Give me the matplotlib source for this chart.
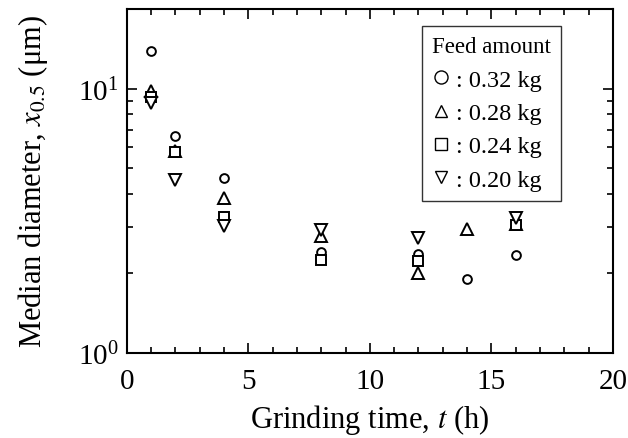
import matplotlib
matplotlib.use('Agg')
import matplotlib.pyplot as plt
from matplotlib.ticker import MultipleLocator

plt.rcParams['font.family'] = ['Liberation Serif', 'DejaVu Serif']
plt.rcParams['mathtext.fontset'] = 'stix'

# grinding time (h) and median diameter (um) per feed amount
t_032 = [1, 2, 4, 8, 12, 14, 16]
d_032 = [13.9, 6.6, 4.6, 2.4, 2.36, 1.91, 2.34]
t_028 = [1, 2, 4, 8, 12, 14, 16]
d_028 = [9.8, 5.8, 3.85, 2.78, 2.0, 2.94, 3.08]
t_024 = [1, 2, 4, 8, 12, 16]
d_024 = [9.3, 5.75, 3.26, 2.25, 2.22, 3.05]
t_020 = [1, 2, 4, 8, 12, 16]
d_020 = [8.8, 4.5, 3.02, 2.92, 2.72, 3.25]

labels = [': 0.32 kg', ': 0.28 kg', ': 0.24 kg', ': 0.20 kg']

fig = plt.figure(figsize=(6.28, 4.39), dpi=100)
ax = fig.add_axes([0.202, 0.194, 0.774, 0.783])

kw = dict(linestyle='none', mfc='white', mec='black', mew=1.4)
ax.plot(t_032, d_032, marker='o', ms=6.3, label=labels[0], **kw)
ax.plot(t_028, d_028, marker='^', ms=8.5, label=labels[1], **kw)
ax.plot(t_024, d_024, marker='s', ms=6.8, label=labels[2], **kw)
ax.plot(t_020, d_020, marker='v', ms=8.5, label=labels[3], **kw)

ax.set_yscale('log')
ax.set_xlim(0, 20)
ax.set_ylim(1, 20)
ax.xaxis.set_major_locator(MultipleLocator(5))
ax.xaxis.set_minor_locator(MultipleLocator(1))
ax.tick_params(which='both', direction='in', top=True, right=True, width=1.2)
ax.tick_params(which='major', length=7, labelsize=21)
ax.tick_params(which='minor', length=4)
ax.tick_params(axis='x', which='major', pad=11)
ax.tick_params(axis='y', which='major', pad=6)
for s in ax.spines.values():
    s.set_linewidth(1.5)

ax.set_xlabel('Grinding time, $t$ (h)', fontsize=22, labelpad=6)
ax.set_ylabel('Median diameter, $x_{0.5}$ (μm)', fontsize=22)
ax.yaxis.set_label_coords(-0.158, 0.5)

leg = ax.legend(title='Feed amount', loc='upper left', bbox_to_anchor=(0.607, 0.951),
                borderaxespad=0, fontsize=17.5, title_fontsize=16.5, frameon=True,
                fancybox=False, edgecolor='black', handlelength=0.75,
                handletextpad=0.25, labelspacing=0.47, borderpad=0.42,
                alignment='left')
leg.get_frame().set_linewidth(1.0)
for h, ms in zip(leg.legend_handles, [9.4, 8.6, 8.0, 8.6]):
    h.set_markersize(ms)
    h.set_markeredgewidth(1.0)

fig.savefig('out.png', dpi=100)
